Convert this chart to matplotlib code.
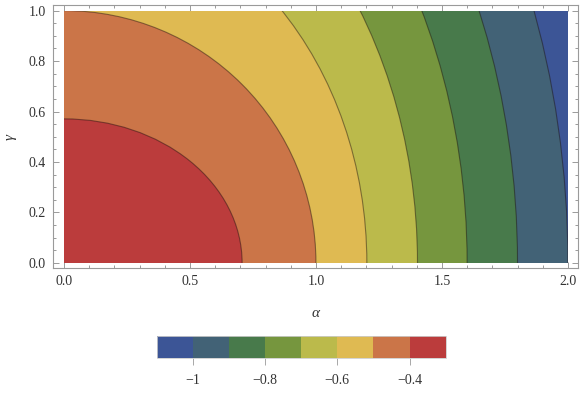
import numpy as np
import matplotlib
matplotlib.use("Agg")
import matplotlib.pyplot as plt
from matplotlib.patches import Ellipse, Rectangle
from matplotlib.colors import ListedColormap, BoundaryNorm
from matplotlib.colorbar import ColorbarBase
from matplotlib.ticker import MultipleLocator, FixedLocator, FixedFormatter

# ---- data ----
band_edges = [-1.1, -1.0, -0.9, -0.8, -0.7, -0.6, -0.5, -0.4, -0.3]
band_colors = ["#3C5596", "#426276", "#487A4B", "#76963E",
               "#BBBA4B", "#DFBA52", "#CB7548", "#BB3C3C"]
contour_levels = [-1.0, -0.9, -0.8, -0.7, -0.6, -0.5, -0.4]
# contour half-extent along alpha (at gamma = 0) and along gamma (at alpha = 0)
semi_alpha = [2.0, 1.8, 1.6, 1.403, 1.202, 1.0, 0.707]
semi_gamma = [2.77, 2.48, 2.17, 1.83, 1.44, 1.0, 0.571]
alpha_range = [0.0, 2.0]
gamma_range = [0.0, 1.0]
x_ticks = [0.0, 0.5, 1.0, 1.5, 2.0]
y_ticks = [0.0, 0.2, 0.4, 0.6, 0.8, 1.0]
cbar_ticks = [-1.0, -0.8, -0.6, -0.4]
cbar_labels = ["\u22121", "\u22120.8", "\u22120.6", "\u22120.4"]

plt.rcParams["font.family"] = ["Liberation Serif", "DejaVu Serif"]

fig = plt.figure(figsize=(5.81, 3.98), dpi=100)
ax = fig.add_axes([0.0912, 0.3266, 0.9036, 0.6601])

frame_col = "#9a9a9a"
text_col = "#333333"

x0, x1 = alpha_range
y0, y1 = gamma_range
ax.set_xlim(x0 - 0.0437, x1 + 0.04)
ax.set_ylim(y0 - 0.02, y1 + 0.021)

clip = Rectangle((x0, y0), x1 - x0, y1 - y0, transform=ax.transData,
                 facecolor="none", edgecolor="none")
ax.add_patch(clip)
base = Rectangle((x0, y0), x1 - x0, y1 - y0, facecolor=band_colors[0],
                 edgecolor="none", zorder=1)
ax.add_patch(base)

# filled bands: from outer contour inwards, each ellipse carries the band above its level
for i, lev in enumerate(contour_levels):
    k = band_edges.index(lev)
    e = Ellipse((0, 0), 2 * semi_alpha[i], 2 * semi_gamma[i],
                facecolor=band_colors[k], edgecolor="none", zorder=2 + i * 0.01)
    ax.add_patch(e)
    e.set_clip_path(clip)

for i, lev in enumerate(contour_levels):
    e = Ellipse((0, 0), 2 * semi_alpha[i], 2 * semi_gamma[i],
                fill=False, edgecolor=(0.1, 0.05, 0.05, 0.45), lw=0.8, zorder=3)
    ax.add_patch(e)
    e.set_clip_path(clip)

ax.xaxis.set_major_locator(FixedLocator(x_ticks))
ax.yaxis.set_major_locator(FixedLocator(y_ticks))
ax.xaxis.set_minor_locator(MultipleLocator(0.1))
ax.yaxis.set_minor_locator(MultipleLocator(0.05))
ax.xaxis.set_major_formatter(FixedFormatter([f"{v:.1f}" for v in x_ticks]))
ax.yaxis.set_major_formatter(FixedFormatter([f"{v:.1f}" for v in y_ticks]))
ax.tick_params(which="both", direction="in", top=True, right=True,
               color=frame_col, width=0.7, labelsize=10, labelcolor=text_col)
ax.tick_params(which="major", length=4, pad=5)
ax.tick_params(which="minor", length=2.2)
for s in ax.spines.values():
    s.set_color(frame_col)
    s.set_linewidth(0.8)

ax.set_xlabel("\u03b1", fontsize=11, style="italic", color=text_col, labelpad=14)
ax.set_ylabel("\u03b3", fontsize=11, style="italic", color=text_col, labelpad=9)

# colour legend
cax = fig.add_axes([0.2697, 0.0997, 0.4974, 0.0560])
cmap = ListedColormap(band_colors)
norm = BoundaryNorm(band_edges, cmap.N)
cb = ColorbarBase(cax, cmap=cmap, norm=norm, orientation="horizontal",
                  boundaries=band_edges, spacing="uniform")
cb.outline.set_edgecolor("#cccccc")
cb.outline.set_linewidth(0.6)
cb.set_ticks(cbar_ticks)
cb.set_ticklabels(cbar_labels)
cax.tick_params(direction="out", length=5, width=0.6, color=frame_col,
                labelsize=10, labelcolor=text_col, pad=6)
cax.minorticks_off()

fig.savefig("out.png", dpi=100)
